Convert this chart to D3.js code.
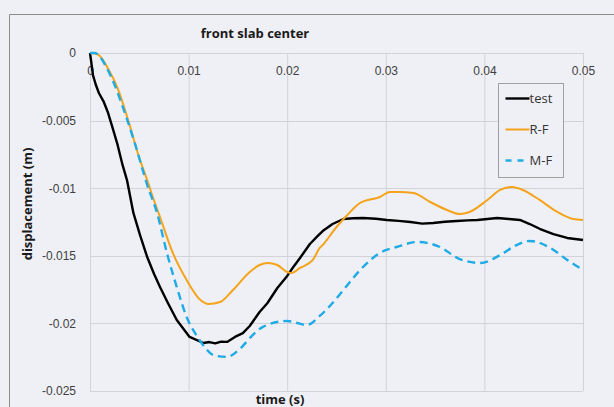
<!DOCTYPE html>
<html>
<head>
<meta charset="utf-8">
<script src="https://cdn.jsdelivr.net/npm/d3@7.9.0/dist/d3.min.js"></script>
<style>
  html, body { margin: 0; padding: 0; background: #eff0f5; }
  svg { display: block; font-family: "Open Sans", sans-serif; }
  .tick text { fill: #404040; font-size: 12px; }
</style>
</head>
<body>
<svg id="chart" width="614" height="407"></svg>
<script>
// time (s) / displacement (m)
const testT = [0, 0.0001, 0.0003, 0.0006, 0.0009, 0.0014, 0.0018, 0.0023, 0.0028, 0.0033, 0.00375, 0.0044, 0.0051, 0.0058, 0.0065, 0.0071, 0.0079, 0.0088, 0.0101, 0.0115, 0.0121, 0.0127, 0.0133, 0.0139, 0.0147, 0.0155, 0.0162, 0.0172, 0.018, 0.019, 0.02, 0.0206, 0.0213, 0.0223, 0.0231, 0.0236, 0.0246, 0.0257, 0.0267, 0.0277, 0.029, 0.0301, 0.0313, 0.0325, 0.0337, 0.0348, 0.036, 0.0372, 0.0383, 0.0393, 0.0403, 0.0413, 0.0425, 0.0436, 0.0446, 0.0456, 0.047, 0.0484, 0.0492, 0.05];
const testD = [0, -0.00052, -0.00163, -0.00237, -0.00296, -0.00362, -0.00436, -0.00555, -0.0068, -0.00828, -0.0094, -0.01183, -0.01353, -0.01509, -0.01635, -0.01731, -0.01849, -0.01975, -0.021, -0.02145, -0.02138, -0.02148, -0.02135, -0.02137, -0.021, -0.02072, -0.02019, -0.01916, -0.01849, -0.01738, -0.01649, -0.01585, -0.01516, -0.01413, -0.01353, -0.01317, -0.01265, -0.01228, -0.01222, -0.0122, -0.01226, -0.01235, -0.01242, -0.0125, -0.01262, -0.01257, -0.01248, -0.01243, -0.01238, -0.01235, -0.01228, -0.0122, -0.01228, -0.01235, -0.01265, -0.013, -0.01339, -0.01368, -0.01376, -0.01383];

const rfT = [0, 0.0005, 0.001, 0.0018, 0.0028, 0.0039, 0.0049, 0.0058, 0.0063, 0.0071, 0.0084, 0.0098, 0.0112, 0.012, 0.0132, 0.0145, 0.0162, 0.0172, 0.018, 0.019, 0.02, 0.0204, 0.0213, 0.0226, 0.0233, 0.0236, 0.025, 0.0261, 0.0274, 0.0294, 0.0304, 0.0314, 0.0328, 0.0345, 0.0362, 0.0375, 0.0385, 0.0403, 0.0416, 0.0428, 0.0439, 0.0456, 0.0474, 0.049, 0.05];
const rfD = [0, -0.00004, -0.00022, -0.00111, -0.00259, -0.00503, -0.00754, -0.00939, -0.0105, -0.01213, -0.01479, -0.01679, -0.01827, -0.01856, -0.01842, -0.01753, -0.0162, -0.01568, -0.01553, -0.01568, -0.0162, -0.01627, -0.0159, -0.01531, -0.01442, -0.0142, -0.01287, -0.01198, -0.01109, -0.01065, -0.01028, -0.01028, -0.01035, -0.01102, -0.01161, -0.01191, -0.01176, -0.01087, -0.01013, -0.00991, -0.01013, -0.01087, -0.01176, -0.01228, -0.01235];

const mfT = [0, 0.0005, 0.0011, 0.0017, 0.0022, 0.0035, 0.0046, 0.0058, 0.0068, 0.0078, 0.0088, 0.0098, 0.0109, 0.0117, 0.0125, 0.0139, 0.0152, 0.0165, 0.0175, 0.02, 0.021, 0.022, 0.0233, 0.0246, 0.0257, 0.0274, 0.0294, 0.0311, 0.0332, 0.0355, 0.0375, 0.0396, 0.0416, 0.0431, 0.0446, 0.0467, 0.0484, 0.05];
const mfD = [0, 0, -0.00037, -0.00111, -0.00185, -0.00436, -0.0068, -0.00976, -0.01183, -0.01479, -0.01731, -0.01953, -0.021, -0.02182, -0.02234, -0.02248, -0.02189, -0.02086, -0.02027, -0.01982, -0.01997, -0.02012, -0.01945, -0.01849, -0.01753, -0.01605, -0.01479, -0.01435, -0.01398, -0.01435, -0.01524, -0.01553, -0.01494, -0.01427, -0.0139, -0.01442, -0.01531, -0.01605];

const xTicks = [0, 0.01, 0.02, 0.03, 0.04, 0.05];
const yTicks = [0, -0.005, -0.01, -0.015, -0.02, -0.025];

const series = [
  { name: 'test', t: testT, d: testD, color: '#000000', width: 2.4, dash: null, curve: d3.curveLinear },
  { name: 'R-F', t: rfT, d: rfD, color: '#f5a31a', width: 2, dash: null, curve: d3.curveMonotoneX },
  { name: 'M-F', t: mfT, d: mfD, color: '#1fabe6', width: 2.4, dash: '8,5', curve: d3.curveMonotoneX }
];

const svg = d3.select('#chart');

// outer frame
svg.append('path')
  .attr('d', 'M9.5,407V14.5H614')
  .attr('fill', 'none')
  .attr('stroke', '#8c8c8c')
  .attr('stroke-width', 1);

const x = d3.scaleLinear().domain([0, 0.05]).range([90, 583]);
const y = d3.scaleLinear().domain([-0.025, 0]).range([391, 53]);

// gridlines
svg.append('g')
  .selectAll('line')
  .data(xTicks)
  .join('line')
  .attr('x1', d => x(d) + 0.5).attr('x2', d => x(d) + 0.5)
  .attr('y1', y(0)).attr('y2', y(-0.025))
  .attr('stroke', '#d2d2d8');

svg.append('g')
  .selectAll('line')
  .data(yTicks)
  .join('line')
  .attr('y1', d => Math.round(y(d)) + 0.5).attr('y2', d => Math.round(y(d)) + 0.5)
  .attr('x1', x(0)).attr('x2', x(0.05))
  .attr('stroke', '#d2d2d8');

// plain hyphen instead of d3's unicode minus, like the source
const fmt = d => d === 0 ? '0' : String(+d.toFixed(3));

// x tick labels (below the zero line)
const xAxis = svg.append('g')
  .attr('transform', `translate(0,${y(0)})`)
  .call(d3.axisBottom(x).tickValues(xTicks).tickSize(0).tickPadding(13).tickFormat(fmt));
xAxis.select('.domain').remove();

// y tick labels
const yAxis = svg.append('g')
  .attr('transform', `translate(${x(0)},0)`)
  .call(d3.axisLeft(y).tickValues(yTicks).tickSize(0).tickPadding(14).tickFormat(fmt));
yAxis.select('.domain').remove();

// lines
series.forEach(s => {
  const pts = s.t.map((t, i) => [t, s.d[i]]);
  const line = d3.line().x(p => x(p[0])).y(p => y(p[1])).curve(s.curve);
  svg.append('path')
    .datum(pts)
    .attr('d', line)
    .attr('fill', 'none')
    .attr('stroke', s.color)
    .attr('stroke-width', s.width)
    .attr('stroke-dasharray', s.dash)
    .attr('stroke-linejoin', 'round');
});

// titles
svg.append('text')
  .attr('x', 255).attr('y', 38)
  .attr('text-anchor', 'middle')
  .attr('font-size', 13).attr('font-weight', 'bold')
  .attr('fill', '#1a1a1a')
  .text('front slab center');

svg.append('text')
  .attr('transform', 'translate(32,204) rotate(-90)')
  .attr('text-anchor', 'middle')
  .attr('font-size', 13).attr('font-weight', 'bold')
  .attr('fill', '#1a1a1a')
  .text('displacement (m)');

svg.append('text')
  .attr('x', 280).attr('y', 404)
  .attr('text-anchor', 'middle')
  .attr('font-size', 13).attr('font-weight', 'bold')
  .attr('fill', '#1a1a1a')
  .text('time (s)');

// legend
const legend = svg.append('g').attr('transform', 'translate(498.5,83.5)');
legend.append('rect')
  .attr('width', 65).attr('height', 94)
  .attr('fill', '#eff0f5')
  .attr('stroke', '#a0a0a0');

series.forEach((s, i) => {
  const ly = 15 + i * 31;
  legend.append('line')
    .attr('x1', 7).attr('x2', 31)
    .attr('y1', ly).attr('y2', ly)
    .attr('stroke', s.color)
    .attr('stroke-width', s.width)
    .attr('stroke-dasharray', s.dash ? '6,6' : null);
  legend.append('text')
    .attr('x', 31).attr('y', ly + 4.5)
    .attr('font-size', 13)
    .attr('fill', '#333')
    .text(s.name);
});
</script>
</body>
</html>
